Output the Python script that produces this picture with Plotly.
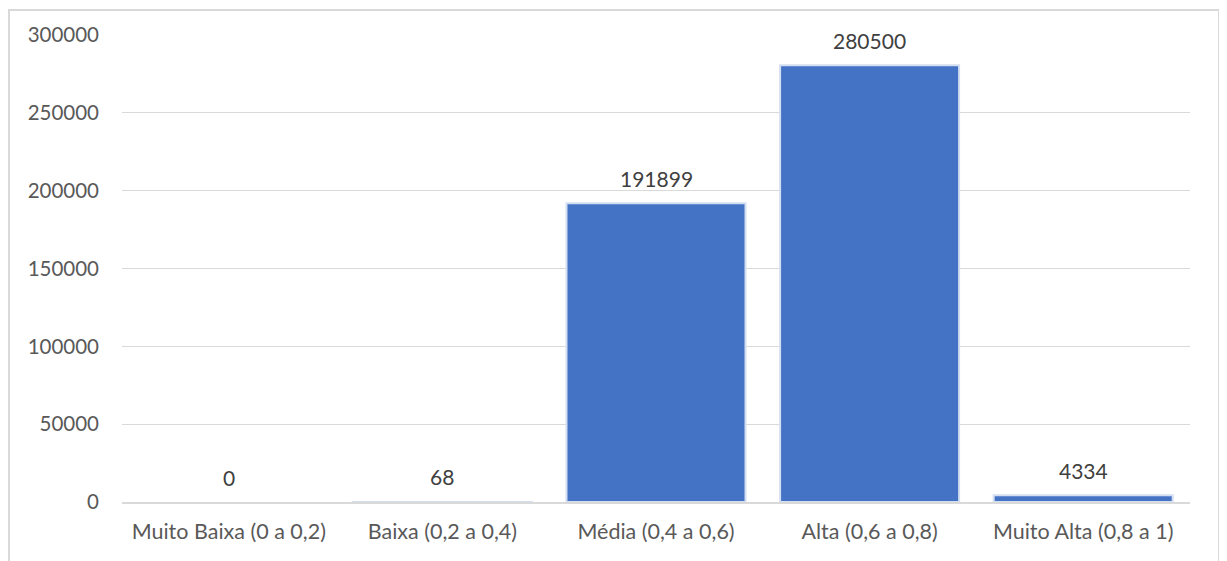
import plotly.graph_objects as go

categorias = ["Muito Baixa (0 a 0,2)", "Baixa (0,2 a 0,4)", "Média (0,4 a 0,6)",
              "Alta (0,6 a 0,8)", "Muito Alta (0,8 a 1)"]
valores = [0, 68, 191899, 280500, 4334]
y_ticks = [0, 50000, 100000, 150000, 200000, 250000, 300000]

# a página tem 8px de margem no body
W, H = 1219, 553
L, R, T, B = 114, 37, 27, 59
plot_w = W - L - R
plot_h = H - T - B

# barra de valor zero não mostra contorno
contorno = [0 if v == 0 else 2 for v in valores]

fig = go.Figure()
fig.add_trace(go.Bar(
    x=categorias, y=valores,
    marker=dict(color="#4472C4", line=dict(color="#D3DEF1", width=contorno)),
    cliponaxis=False,
))

for c, v in zip(categorias, valores):
    fig.add_annotation(x=c, y=v, text=str(v), showarrow=False,
                       yanchor="middle", yshift=25,
                       font=dict(size=21, color="#404040"))

fig.update_layout(
    width=W, height=H,
    margin=dict(l=L, r=R, t=T, b=B),
    plot_bgcolor="white", paper_bgcolor="white",
    font=dict(family="Lato, Open Sans, sans-serif", size=20, color="#595959"),
    bargap=0.162,
    showlegend=False,
)
fig.update_yaxes(range=[0, 300000], tickvals=y_ticks, ticktext=[str(v) for v in y_ticks],
                 showgrid=True, gridcolor="#D9D9D9", gridwidth=1,
                 zeroline=False, showline=False, ticks="", ticklabelstandoff=22,
                 tickfont=dict(size=20.5, color="#595959"))
fig.update_xaxes(showline=True, linecolor="#D9D9D9", linewidth=1.5, ticks="",
                 ticklabelstandoff=9,
                 tickfont=dict(size=21.5, color="#595959"))

# moldura do gráfico
fig.add_shape(type="rect", xref="paper", yref="paper",
              x0=(1 - L) / plot_w, x1=(1211 - L) / plot_w,
              y0=-(B + 40) / plot_h, y1=(plot_h + T - 2) / plot_h,
              line=dict(color="#D9D9D9", width=2), layer="below")

fig.write_html("out.html")
